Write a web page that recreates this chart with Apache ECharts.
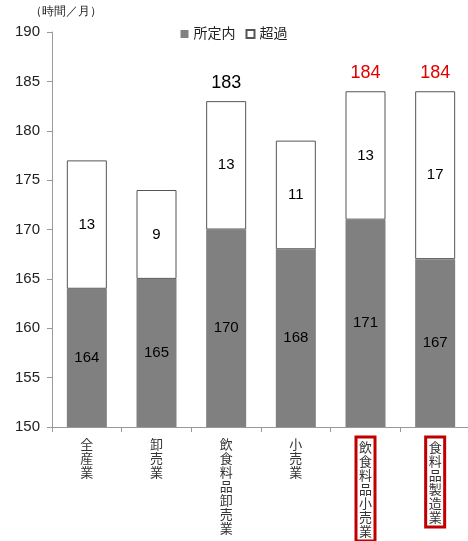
<!DOCTYPE html>
<html><head><meta charset="utf-8">
<script src="https://cdn.jsdelivr.net/npm/echarts@6/dist/echarts.min.js"></script>
<style>html,body{margin:0;padding:0;background:#fff}#c{width:468px;height:541px}</style>
</head><body><div id="c"></div>
<script>
const categories = ['全産業','卸売業','飲食料品卸売業','小売業','飲食料品小売業','食料品製造業'];
const scheduled = [164,165,170,168,171,167];
const overtime = [13,9,13,11,13,17];
const highlighted = [false,false,false,false,true,true];
const totalLabels = ['', '', '183', '', '184', '184'];
const totalColors = ['#000','#000','#000','#000','#e00000','#e00000'];
const yTicks = {min:150, max:190, interval:5};

const font = '"Liberation Sans","Noto Sans CJK JP",sans-serif';
const chart = echarts.init(document.getElementById('c'));
chart.setOption({
  animation:false,
  textStyle:{fontFamily:font},
  grid:{left:52, right:-2, top:32, bottom:114, outerBoundsMode:'none', containLabel:false},
  legend:{
    top:22, left:'center', itemWidth:8, itemHeight:8, itemGap:10,
    textStyle:{fontSize:14, color:'#222', fontFamily:font},
    data:[{name:'所定内', icon:'rect'},{name:'超過', icon:'rect'}]
  },
  graphic:[{type:'text', left:30, top:6, style:{text:'（時間／月）', fontSize:12, fill:'#222', font:'12px "Noto Sans CJK JP"'}}],
  xAxis:{
    type:'category',
    data:categories.map((c,i)=>highlighted[i]
      ? {value:c, textStyle:{borderColor:'#c00000', borderWidth:3, padding:[3,3,3,3]}}
      : c),
    axisLine:{lineStyle:{color:'#999'}},
    axisTick:{show:true, lineStyle:{color:'#999'}},
    axisLabel:{
      interval:0, margin:10, color:'#333', fontSize:13, lineHeight:14, fontFamily:'"Noto Sans CJK JP"',
      formatter:(v)=>v.split('').join('\n')
    }
  },
  yAxis:{
    type:'value', min:yTicks.min, max:yTicks.max, interval:yTicks.interval,
    axisLine:{show:true, lineStyle:{color:'#999'}},
    axisTick:{show:true, lineStyle:{color:'#999'}},
    splitLine:{show:false},
    axisLabel:{color:'#222', fontSize:15, margin:12}
  },
  series:[
    {name:'所定内', type:'bar', stack:'a', barWidth:40, data:scheduled,
     itemStyle:{color:'#808080', borderColor:'#808080', borderWidth:0},
     label:{show:true, position:'inside', color:'#000', fontSize:15}},
    {name:'超過', type:'bar', stack:'a', barWidth:40, data:overtime,
     label:{show:true, position:'inside', color:'#000', fontSize:15},
     itemStyle:{color:'#fff', borderColor:'#555', borderWidth:1}},
    {name:'total', type:'bar', stack:'a', barWidth:40, data:totalLabels.map((t,i)=>({value:0, label:{show:!!t, position:'top', distance:9, formatter:t, color:totalColors[i], fontSize:18}})),
     itemStyle:{color:'transparent'}, tooltip:{show:false}, legendHoverLink:false}
  ]
});
</script></body></html>
